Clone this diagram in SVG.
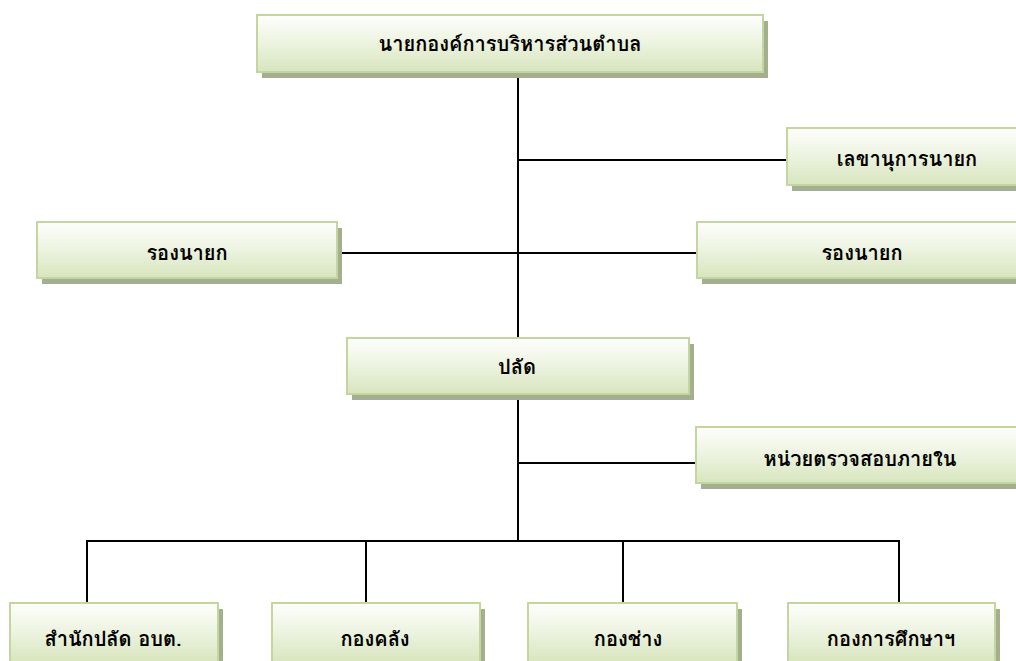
<svg xmlns="http://www.w3.org/2000/svg" width="1016" height="661" viewBox="0 0 1016 661">
<defs>
<linearGradient id="g" x1="0" y1="0" x2="0" y2="1">
<stop offset="0" stop-color="#fefefd"/>
<stop offset="0.45" stop-color="#eef4e2"/>
<stop offset="1" stop-color="#d8e5be"/>
</linearGradient>
<style>
.sh{fill:#a4ae91}
.bx{fill:url(#g);stroke:#c3d69b;stroke-width:2}
.t{font-family:"Tahoma","Loma","Garuda","Noto Sans Thai Looped","Noto Sans Thai","DejaVu Sans",sans-serif;font-size:20px;font-weight:bold;fill:#000;text-anchor:middle}
.c{stroke:#000;stroke-width:2;fill:none}
</style>
</defs>
<rect width="1016" height="661" fill="#fff"/>
<g id="connectors">
<line class="c" x1="518" y1="72" x2="518" y2="338"/>
<line class="c" x1="518" y1="394" x2="518" y2="541"/>
<line class="c" x1="518" y1="160" x2="787" y2="160"/>
<line class="c" x1="337" y1="253" x2="697" y2="253"/>
<line class="c" x1="518" y1="463" x2="696" y2="463"/>
<line class="c" x1="87" y1="541" x2="899" y2="541"/>
<line class="c" x1="87" y1="540" x2="87" y2="604"/>
<line class="c" x1="366" y1="540" x2="366" y2="604"/>
<line class="c" x1="623" y1="540" x2="623" y2="604"/>
<line class="c" x1="899" y1="540" x2="899" y2="604"/>
</g>
<g id="n-top">
<rect class="sh" x="262" y="21" width="506" height="57"/>
<rect class="bx" x="257" y="15" width="506" height="57"/>
<text class="t" x="510" y="51">นายกองค์การบริหารส่วนตำบล</text>
</g>
<g id="n-secretary">
<rect class="sh" x="792" y="134" width="240" height="57"/>
<rect class="bx" x="787" y="128" width="240" height="57"/>
<text class="t" x="907" y="166">เลขานุการนายก</text>
</g>
<g id="n-deputy-left">
<rect class="sh" x="42" y="228" width="300" height="56"/>
<rect class="bx" x="37" y="222" width="300" height="56"/>
<text class="t" x="187" y="260">รองนายก</text>
</g>
<g id="n-deputy-right">
<rect class="sh" x="702" y="228" width="330" height="56"/>
<rect class="bx" x="697" y="222" width="330" height="56"/>
<text class="t" x="862" y="260">รองนายก</text>
</g>
<g id="n-palat">
<rect class="sh" x="352" y="344" width="342" height="56"/>
<rect class="bx" x="347" y="338" width="342" height="56"/>
<text class="t" x="517" y="374">ปลัด</text>
</g>
<g id="n-audit">
<rect class="sh" x="701" y="433" width="330" height="56"/>
<rect class="bx" x="696" y="427" width="330" height="56"/>
<text class="t" x="860" y="466">หน่วยตรวจสอบภายใน</text>
</g>
<g id="n-office">
<rect class="sh" x="15" y="609" width="208" height="60"/>
<rect class="bx" x="10" y="603" width="208" height="60"/>
<text class="t" x="113" y="646">สำนักปลัด อบต.</text>
</g>
<g id="n-finance">
<rect class="sh" x="277" y="609" width="208" height="60"/>
<rect class="bx" x="272" y="603" width="208" height="60"/>
<text class="t" x="375" y="646">กองคลัง</text>
</g>
<g id="n-works">
<rect class="sh" x="533" y="609" width="209" height="60"/>
<rect class="bx" x="528" y="603" width="209" height="60"/>
<text class="t" x="628" y="646">กองช่าง</text>
</g>
<g id="n-education">
<rect class="sh" x="793" y="609" width="207" height="60"/>
<rect class="bx" x="788" y="603" width="207" height="60"/>
<text class="t" x="891" y="646">กองการศึกษาฯ</text>
</g>
</svg>
